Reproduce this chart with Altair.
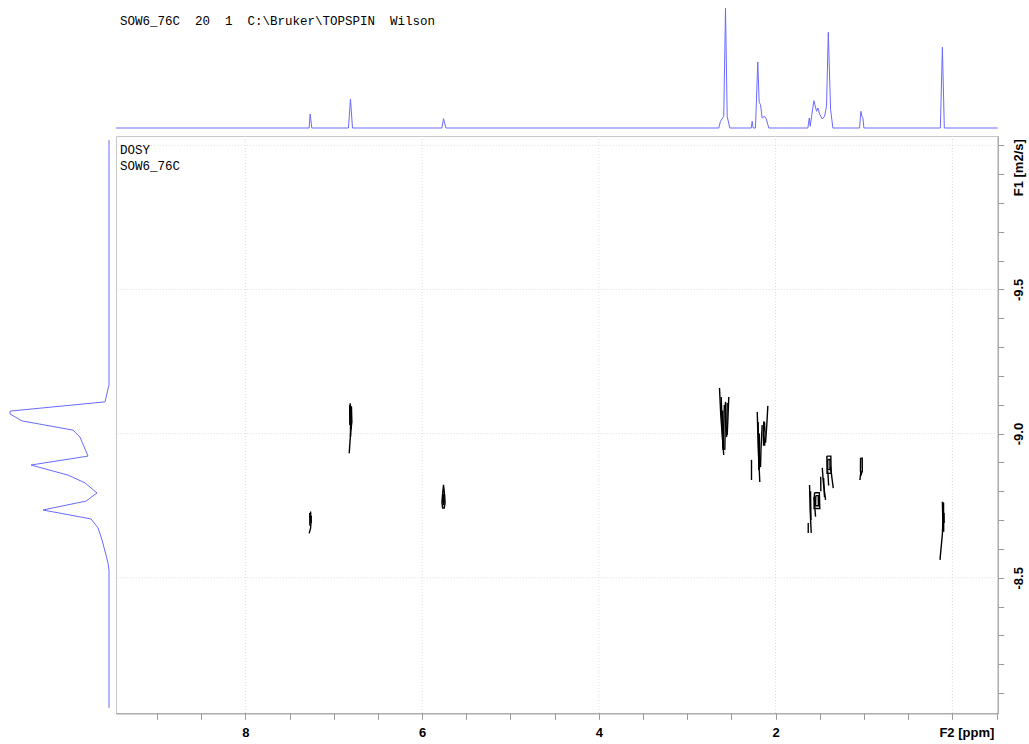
import altair as alt
import pandas as pd

# ---------------------------------------------------------------------------
# F2 (1H) projection drawn above the contour map: chemical shift / intensity
# ---------------------------------------------------------------------------
f2_ppm = [9.464, 7.279, 7.267, 7.248, 6.834, 6.811, 6.788, 5.776, 5.758, 5.730,
          2.643, 2.624, 2.587, 2.567, 2.548, 2.519, 2.276, 2.265, 2.254,
          2.228, 2.202, 2.186, 2.171, 2.152, 2.126, 2.106, 2.077,
          1.635, 1.619, 1.608, 1.593, 1.567, 1.537, 1.522, 1.499, 1.472,
          1.446, 1.424, 1.404, 1.378, 1.352,
          1.050, 1.035, 1.024, 1.012, 1.001, 0.136, 0.113, 0.091, -0.513]
f2_int = [0, 0, 14, 0, 0, 29, 0, 0, 9.3, 0,
          0, 6.7, 11.7, 120, 11.7, 0, 0, 6.7, 0,
          0, 66, 25.7, 23.3, 10, 11.7, 9, 0,
          0, 10, 1.7, 11.7, 27.3, 16.7, 20, 13.3, 9,
          11.7, 21.7, 95.7, 18.3, 0,
          0, 16.7, 11.7, 10, 0, 0, 80.7, 0, 0]

# ---------------------------------------------------------------------------
# F1 (diffusion) projection drawn left of the map: log D / intensity
# ---------------------------------------------------------------------------
f1_logd = [-10.018, -9.169, -9.110, -9.078, -9.068, -9.044, -9.012, -8.988,
           -8.922, -8.891, -8.856, -8.829, -8.794, -8.766, -8.735, -8.704,
           -8.673, -8.631, -8.579, -8.551, -8.527, -8.049]
f1_int = [0, 0, 4, 99, 99, 87, 36, 29,
          21, 78, 41, 24, 12, 23, 66, 18,
          11, 7, 3, 1, 0, 0]

# ---------------------------------------------------------------------------
# DOSY contour traces (ppm, log D), one list of polylines per signal
# ---------------------------------------------------------------------------
c_727 = [
    [(7.262, -8.730), (7.258, -8.690), (7.262, -8.672), (7.278, -8.654)],
    [(7.272, -8.725), (7.270, -8.680)],
    [(7.255, -8.715), (7.256, -8.690)],
]
c_681 = [
    [(6.814, -9.105), (6.808, -9.064), (6.803, -9.024), (6.815, -8.978), (6.825, -8.932)],
    [(6.820, -9.098), (6.818, -9.030)],
    [(6.800, -9.095), (6.795, -9.040), (6.805, -9.015)],
    [(6.812, -9.100), (6.810, -8.990)],
]
c_576 = [
    [(5.758, -8.822), (5.770, -8.785), (5.776, -8.760), (5.768, -8.742), (5.750, -8.742),
     (5.740, -8.760), (5.745, -8.785), (5.758, -8.822)],
    [(5.758, -8.790), (5.766, -8.765), (5.758, -8.752), (5.750, -8.765), (5.758, -8.790)],
]
c_257 = [
    [(2.635, -9.158), (2.620, -9.060), (2.587, -8.926)],
    [(2.616, -9.127), (2.605, -9.030), (2.595, -8.943)],
    [(2.580, -9.100), (2.590, -9.000), (2.592, -8.950)],
    [(2.567, -9.110), (2.570, -9.020), (2.575, -8.943)],
    [(2.548, -9.106), (2.552, -9.040), (2.555, -8.988)],
    [(2.530, -9.127), (2.540, -9.050), (2.548, -8.995)],
    [(2.600, -9.080), (2.598, -8.960)],
]
c_220 = [
    [(2.208, -9.075), (2.196, -8.950), (2.179, -8.832)],
    [(2.198, -9.040), (2.190, -8.874)],
    [(2.185, -9.000), (2.182, -8.880)],
    [(2.152, -9.030), (2.165, -8.950), (2.171, -8.884)],
    [(2.126, -9.040), (2.120, -9.000), (2.124, -8.960), (2.136, -8.960), (2.140, -9.000),
     (2.134, -9.040), (2.126, -9.040)],
    [(2.088, -9.096), (2.100, -9.030), (2.114, -8.968)],
    [(2.273, -8.909), (2.273, -8.839)],
]
c_150 = [
    [(1.616, -8.822), (1.610, -8.740), (1.597, -8.655)],
    [(1.631, -8.690), (1.631, -8.655)],
    [(1.605, -8.800), (1.600, -8.700)],
    [(1.560, -8.795), (1.505, -8.795), (1.500, -8.740), (1.565, -8.740), (1.560, -8.795)],
    [(1.545, -8.785), (1.518, -8.785), (1.516, -8.750), (1.548, -8.750), (1.545, -8.785)],
    [(1.567, -8.781), (1.548, -8.712)],
    [(1.472, -8.881), (1.460, -8.830), (1.435, -8.770)],
    [(1.490, -8.850), (1.488, -8.800)],
    [(1.457, -8.846), (1.447, -8.780)],
    [(1.420, -8.922), (1.375, -8.922), (1.372, -8.862), (1.418, -8.862), (1.420, -8.922)],
    [(1.410, -8.910), (1.385, -8.910), (1.385, -8.875), (1.410, -8.875), (1.410, -8.910)],
    [(1.378, -8.884), (1.360, -8.840), (1.348, -8.811)],
    [(1.410, -8.870), (1.400, -8.820)],
]
c_103 = [
    [(1.039, -8.915), (1.020, -8.915), (1.019, -8.870), (1.030, -8.860), (1.040, -8.870),
     (1.039, -8.915)],
    [(1.035, -8.870), (1.046, -8.839)],
]
c_011 = [
    [(0.113, -8.764), (0.108, -8.700), (0.112, -8.655), (0.140, -8.562)],
    [(0.100, -8.760), (0.098, -8.660)],
    [(0.106, -8.762), (0.104, -8.680)],
    [(0.095, -8.725), (0.093, -8.690)],
]
signals = {"7.27": c_727, "6.81": c_681, "5.76": c_576, "2.57": c_257,
           "2.20": c_220, "1.50": c_150, "1.03": c_103, "0.11": c_011}

# axis ticks and grid lines
x_tick_vals = [9.0, 8.5, 8.0, 7.5, 7.0, 6.5, 6.0, 5.5, 5.0, 4.5, 4.0, 3.5,
               3.0, 2.5, 2.0, 1.5, 1.0, 0.5, 0.0, -0.5]
x_label_vals = [8, 6, 4, 2, 0]
x_label_text = ["8", "6", "4", "2", "F2 [ppm]"]
y_tick_vals = [-10.0, -9.9, -9.8, -9.7, -9.6, -9.5, -9.4, -9.3, -9.2, -9.1,
               -9.0, -8.9, -8.8, -8.7, -8.6, -8.5, -8.4, -8.3, -8.2, -8.1]
y_label_vals = [-10.0, -9.5, -9.0, -8.5]
y_label_text = ["F1 [m2/s]", "-9.5", "-9.0", "-8.5"]
grid_ppm = [8, 6, 4, 2, 0]
grid_logd = [-10.0, -9.5, -9.0, -8.5]

# ---------------------------------------------------------------------------
PLOT_W, PLOT_H = 881.7, 577.3
BLUE = "#6a6aff"
AXIS_GRAY = "#9a9a9a"
GRID_GRAY = "#dadada"
LABEL_FONT = "Liberation Sans"
MONO = "Liberation Mono"

X_SCALE = alt.Scale(domain=[-0.513, 9.464], reverse=True, nice=False, zero=False)
Y_SCALE = alt.Scale(domain=[-10.032, -8.03], reverse=True, nice=False, zero=False)


def label_expr(vals, texts):
    parts = [f"datum.value == {v} ? '{t}'" for v, t in zip(vals, texts)]
    return " : ".join(parts) + " : ''"


x_axis = alt.Axis(
    orient="bottom", values=x_tick_vals, labelExpr=label_expr(x_label_vals, x_label_text),
    grid=False, title=None, domainColor=AXIS_GRAY, tickColor=AXIS_GRAY, tickSize=6,
    labelFont=LABEL_FONT, labelFontSize=13, labelFontWeight="bold", labelColor="black",
    labelPadding=7, labelFlush=False, labelOverlap=False,
    labelOffset={"condition": {"test": "datum.value == 0", "value": 14}, "value": 0},
)
y_axis = alt.Axis(
    orient="right", values=y_tick_vals, labelExpr=label_expr(y_label_vals, y_label_text),
    grid=False, title=None, domainColor=AXIS_GRAY, tickColor=AXIS_GRAY, tickSize=6,
    labelFont=LABEL_FONT, labelFontSize=13, labelFontWeight="bold", labelColor="black",
    labelAngle=270, labelAlign="center", labelBaseline="top", labelPadding=9,
    labelFlush=False, labelOverlap=False,
    labelOffset={"condition": {"test": "datum.value == -10", "value": 22}, "value": 0},
)

# contour table
rows = []
for sig, traces in signals.items():
    for i, trace in enumerate(traces):
        for j, (p, d) in enumerate(trace):
            rows.append({"trace": f"{sig}-{i}", "seq": j, "ppm": p, "logd": d})
contour_df = pd.DataFrame(rows)

grid_x = alt.Chart(pd.DataFrame({"ppm": grid_ppm})).mark_rule(
    color=GRID_GRAY, strokeDash=[1, 2], strokeWidth=1
).encode(x=alt.X("ppm:Q", scale=X_SCALE, axis=None))

grid_y = alt.Chart(pd.DataFrame({"logd": grid_logd})).mark_rule(
    color=GRID_GRAY, strokeDash=[1, 2], strokeWidth=1
).encode(y=alt.Y("logd:Q", scale=Y_SCALE, axis=None))

contours = alt.Chart(contour_df).mark_line(color="black", strokeWidth=1.4).encode(
    x=alt.X("ppm:Q", scale=X_SCALE, axis=x_axis),
    y=alt.Y("logd:Q", scale=Y_SCALE, axis=y_axis),
    detail="trace:N",
    order="seq:Q",
)

top_trace = alt.Chart(pd.DataFrame({"ppm": f2_ppm, "inten": f2_int})).mark_line(
    color=BLUE, strokeWidth=1
).encode(
    x=alt.X("ppm:Q", scale=X_SCALE, axis=None),
    y=alt.Y("inten:Q", scale=alt.Scale(domain=[0, 120], range=[-8, -128], nice=False, zero=False),
            axis=None),
)

left_trace = alt.Chart(pd.DataFrame({"logd": f1_logd, "inten": f1_int,
                                     "k": list(range(len(f1_logd)))})).mark_line(
    color=BLUE, strokeWidth=1
).encode(
    x=alt.X("inten:Q", scale=alt.Scale(domain=[0, 100], range=[-7, -107], nice=False, zero=False),
            axis=None),
    y=alt.Y("logd:Q", scale=Y_SCALE, axis=None),
    order="k:Q",
)

NB = "\u00a0\u00a0"
header = alt.Chart(pd.DataFrame({"t": [f"SOW6_76C{NB}20{NB}1{NB}C:\\Bruker\\TOPSPIN{NB}Wilson"]})).mark_text(
    align="left", baseline="middle", font=MONO, fontSize=12.5, color="black"
).encode(x=alt.value(4), y=alt.value(-115), text="t:N")

exp_name = alt.Chart(pd.DataFrame({"t": ["DOSY"]})).mark_text(
    align="left", baseline="middle", font=MONO, fontSize=12.5, color="black"
).encode(x=alt.value(4), y=alt.value(14), text="t:N")

data_name = alt.Chart(pd.DataFrame({"t": ["SOW6_76C"]})).mark_text(
    align="left", baseline="middle", font=MONO, fontSize=12.5, color="black"
).encode(x=alt.value(4), y=alt.value(30), text="t:N")

chart = (
    alt.layer(grid_x, grid_y, contours, top_trace, left_trace, header, exp_name, data_name)
    .resolve_scale(x="independent", y="independent")
    .properties(
        width=PLOT_W, height=PLOT_H,
        padding={"left": 116, "top": 136, "right": 31.3, "bottom": 30.7},
        autosize=alt.AutoSizeParams(type="none"),
        background="white",
    )
    .configure_view(stroke="#c8c8c8", strokeWidth=1)
)

chart.save("out.html", embed_options={"renderer": "svg", "actions": False})
